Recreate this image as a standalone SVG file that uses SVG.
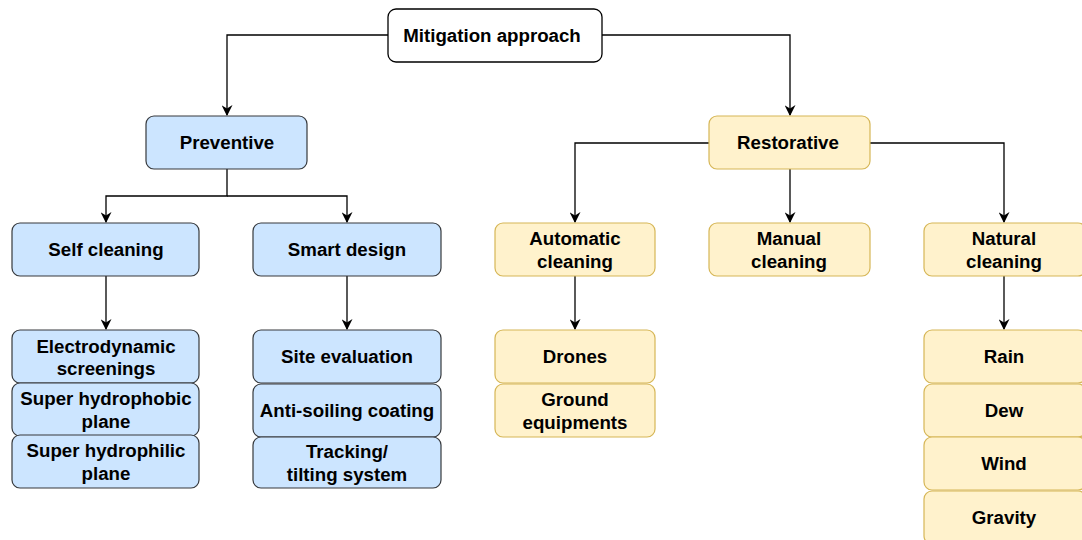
<svg xmlns="http://www.w3.org/2000/svg" width="1082" height="540" viewBox="0 0 1082 540">
<defs>
<marker id="arr" viewBox="0 0 10 10" refX="9" refY="5" markerWidth="11" markerHeight="11" markerUnits="userSpaceOnUse" orient="auto">
<path d="M0,0 L10,5 L0,10 L3,5 Z" fill="#000"/>
</marker>
<style>
.t{font-family:"Liberation Sans",Arial,sans-serif;font-weight:bold;font-size:18.7px;fill:#000;text-anchor:middle;dominant-baseline:central}
.w{fill:#fff;stroke:#000;stroke-width:1.3}
.b{fill:#cce5ff;stroke:#36393d;stroke-width:1.2}
.y{fill:#fff2cc;stroke:#d6b656;stroke-width:1.2}
.c{fill:none;stroke:#000;stroke-width:1.3;marker-end:url(#arr)}
</style>
</defs>
<rect width="1082" height="540" fill="#fff"/>
<g id="connectors">
<path class="c" d="M388,35 H227 V115"/>
<path class="c" d="M602,35 H790 V115"/>
<path class="c" d="M227,169 V196 H106 V222"/>
<path class="c" d="M227,196 H347 V222"/>
<path class="c" d="M709,143 H575 V222"/>
<path class="c" d="M790,169 V222"/>
<path class="c" d="M870,143 H1004 V222"/>
<path class="c" d="M106,276 V329"/>
<path class="c" d="M347,276 V329"/>
<path class="c" d="M575,276 V329"/>
<path class="c" d="M1004,276 V329"/>
</g>
<g id="mitigation"><rect class="w" x="388" y="9" width="214" height="53" rx="8"/><text class="t" x="492" y="35">Mitigation approach</text></g>
<g id="preventive"><rect class="b" x="146" y="116" width="161" height="53" rx="8"/><text class="t" x="227" y="142">Preventive</text></g>
<g id="restorative"><rect class="y" x="709" y="116" width="161" height="53" rx="8"/><text class="t" x="788" y="142">Restorative</text></g>
<g id="self-cleaning"><rect class="b" x="12" y="223" width="187" height="53" rx="8"/><text class="t" x="106" y="249">Self cleaning</text></g>
<g id="smart-design"><rect class="b" x="253" y="223" width="188" height="53" rx="8"/><text class="t" x="347" y="249">Smart design</text></g>
<g id="automatic-cleaning"><rect class="y" x="495" y="223" width="160" height="53" rx="8"/><text class="t" x="575" y="238">Automatic</text><text class="t" x="575" y="261">cleaning</text></g>
<g id="manual-cleaning"><rect class="y" x="709" y="223" width="161" height="53" rx="8"/><text class="t" x="789" y="238">Manual</text><text class="t" x="789" y="261">cleaning</text></g>
<g id="natural-cleaning"><rect class="y" x="924" y="223" width="162" height="53" rx="8"/><text class="t" x="1004" y="238">Natural</text><text class="t" x="1004" y="261">cleaning</text></g>
<g id="electrodynamic"><rect class="b" x="12" y="330" width="187" height="53" rx="8"/><text class="t" x="106" y="346">Electrodynamic</text><text class="t" x="106" y="368">screenings</text></g>
<g id="hydrophobic"><rect class="b" x="12" y="383" width="187" height="53" rx="8"/><text class="t" x="106" y="398">Super hydrophobic</text><text class="t" x="106" y="421">plane</text></g>
<g id="hydrophilic"><rect class="b" x="12" y="435" width="187" height="53" rx="8"/><text class="t" x="106" y="450">Super hydrophilic</text><text class="t" x="106" y="473">plane</text></g>
<g id="site-evaluation"><rect class="b" x="253" y="330" width="188" height="53" rx="8"/><text class="t" x="347" y="356">Site evaluation</text></g>
<g id="anti-soiling"><rect class="b" x="253" y="384" width="188" height="53" rx="8"/><text class="t" x="347" y="410">Anti-soiling coating</text></g>
<g id="tracking"><rect class="b" x="253" y="437" width="188" height="51" rx="8"/><text class="t" x="347" y="451">Tracking/</text><text class="t" x="347" y="474">tilting system</text></g>
<g id="drones"><rect class="y" x="495" y="330" width="160" height="53" rx="8"/><text class="t" x="575" y="356">Drones</text></g>
<g id="ground"><rect class="y" x="495" y="384" width="160" height="53" rx="8"/><text class="t" x="575" y="399">Ground</text><text class="t" x="575" y="422">equipments</text></g>
<g id="rain"><rect class="y" x="924" y="330" width="162" height="53" rx="8"/><text class="t" x="1004" y="356">Rain</text></g>
<g id="dew"><rect class="y" x="924" y="384" width="162" height="53" rx="8"/><text class="t" x="1004" y="410">Dew</text></g>
<g id="wind"><rect class="y" x="924" y="437" width="162" height="53" rx="8"/><text class="t" x="1004" y="463">Wind</text></g>
<g id="gravity"><rect class="y" x="924" y="491" width="162" height="53" rx="8"/><text class="t" x="1004" y="517">Gravity</text></g>
</svg>
